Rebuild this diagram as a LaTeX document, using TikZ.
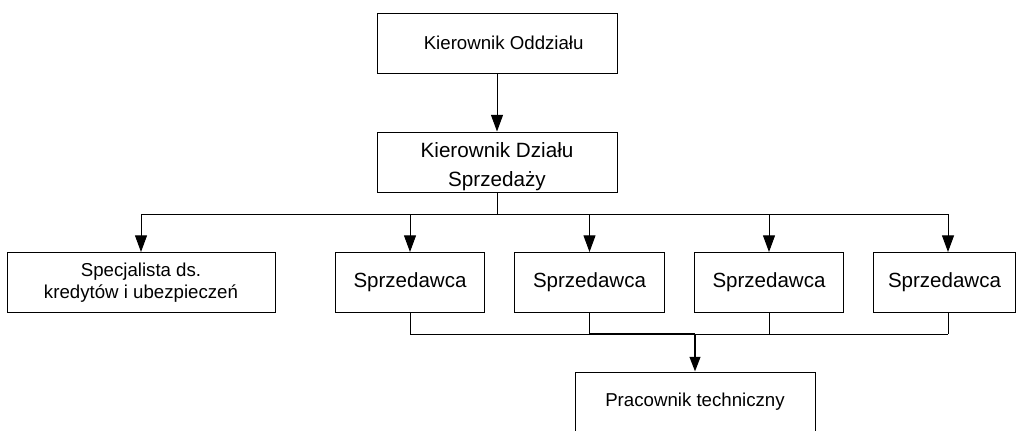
\documentclass[tikz,border=0pt]{standalone}
\usepackage{fontspec}
\setmainfont{Liberation Sans}
\usetikzlibrary{arrows.meta}
\tikzset{
  box/.style={draw=black, line width=0.75pt, minimum height=45pt, align=center, font=\fontsize{14}{17}\selectfont},
  wide box/.style={box, minimum width=180pt},
  sales box/.style={box, minimum width=112pt, font=\fontsize{15.4}{17}\selectfont},
  bus/.style={line width=0.75pt},
  link/.style={line width=0.75pt, arrows={-Triangle[length=12.5pt,width=9pt]}},
  main link/.style={line width=1.5pt, arrows={-Triangle[length=11pt,width=8pt]}}
}

\begin{document}
\begin{tikzpicture}[x=0.75pt,y=-0.75pt]
  \clip (0,0) rectangle (1016,430);
  \useasboundingbox (0,0) rectangle (1016,430);

  \node[wide box] at (497,43) (oddzial) {\hspace*{10pt}Kierownik Oddziału};
  \node[wide box, inner ysep=0pt, font=\fontsize{15.5}{22}\selectfont] at (497,162) (dzial) {\rule{0pt}{18.5pt}Kierownik Działu\\Sprzedaży};

  \node[box, minimum width=201pt] at (141,282.5) (spec) {Specjalista ds.\\kredytów i ubezpieczeń};
  \node[sales box] at (410,282.5) (s1) {Sprzedawca};
  \node[sales box] at (589.5,282.5) (s2) {Sprzedawca};
  \node[sales box] at (769,282.5) (s3) {Sprzedawca};
  \node[sales box, minimum width=106pt] at (944.5,282.5) (s4) {Sprzedawca};

  \node[wide box] at (695,402) (tech) {Pracownik techniczny};

  % top part
  \draw[link] (oddzial) -- (dzial);
  \coordinate (top bus) at (497,214);
  \draw[bus] (dzial.south) -- (top bus);
  \draw[bus] (spec.north |- top bus) -- (948,214);
  \foreach \n in {spec,s1,s2,s3} {
    \draw[link] (\n.north |- top bus) -- (\n.north);
  }
  \draw[link] (948,214) coordinate (s4 top) -- (s4.north -| s4 top);

  % bottom part
  \coordinate (low bus) at (695,334);
  \foreach \n in {s1,s2,s3} {
    \draw[bus] (\n.south) -- (\n.south |- low bus);
  }
  \draw[bus] (s4.south -| s4 top) -- (s4 top |- low bus);
  \draw[bus] (s1.south |- low bus) -- (s2.south |- low bus);
  \draw[bus] (low bus) -- (s4 top |- low bus);
  \draw[line width=1.5pt] (s2.south |- low bus) -- (low bus);
  \draw[main link] (low bus) -- (tech.north);
\end{tikzpicture}
\end{document}
